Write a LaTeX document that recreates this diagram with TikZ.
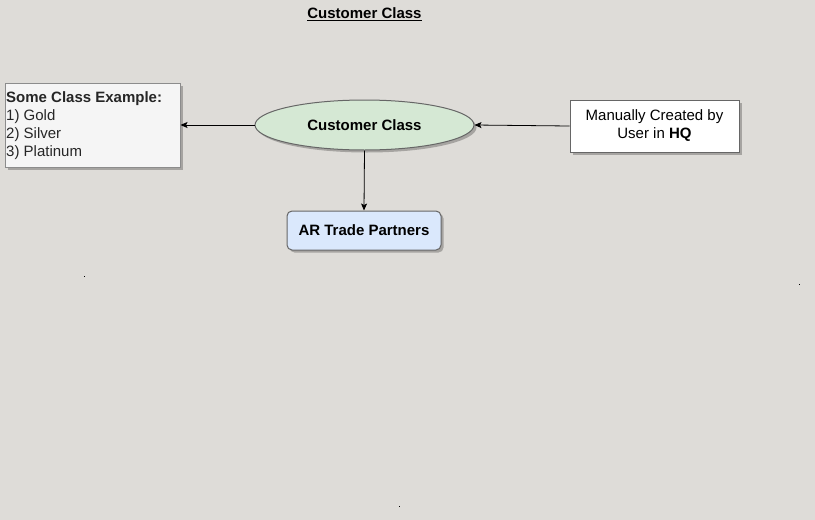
\documentclass[tikz,border=0pt]{standalone}
\usepackage{fontspec}
\setmainfont{Liberation Sans}
\usetikzlibrary{shapes.geometric,shadows,arrows.meta}
\definecolor{bg}{HTML}{DEDCD8}
\definecolor{strk}{HTML}{666666}
\definecolor{greenfill}{HTML}{D5E8D4}
\definecolor{bluefill}{HTML}{DAE8FC}
\definecolor{grayfill}{HTML}{F5F5F5}
\begin{document}
\begin{tikzpicture}[x=1pt,y=-1pt,
  shd/.style={drop shadow={shadow xshift=2.5pt,shadow yshift=-2.5pt,fill=black,opacity=0.25}},
  txt/.style={font=\fontsize{15}{18}\selectfont},
  boxa/.style={draw=strk,line width=1pt,shd,txt,inner sep=0pt},
  conn/.style={draw=black,line width=0.8pt,-{Stealth[length=7pt,width=6pt,inset=1.5pt]}}]
\fill[bg] (0,0) rectangle (815,520);
\useasboundingbox (0,0) rectangle (815,520);
% title
\node[txt,font=\fontsize{15}{18}\selectfont\bfseries] (title) at (364.5,14) {\underline{Customer Class}};
% left box
\node[boxa,draw=black!45,fill=grayfill,minimum width=175pt,minimum height=84pt] (ex) at (92.5,125) {};
\node[txt,anchor=north west,align=left,inner sep=0pt,text=black!85] (extxt) at (6,91.5)
  {\textbf{Some Class Example:}\\1) Gold\\2) Silver\\3) Platinum};
% ellipse
\node[boxa,ellipse,fill=greenfill,minimum width=219pt,minimum height=50pt] (cc) at (364.5,125) {\textbf{Customer Class}};
% right box
\node[boxa,fill=white,minimum width=169pt,minimum height=52pt,align=center] (man) at (654.5,126) {Manually Created by\\User in \textbf{HQ}};
% AR box
\node[boxa,rounded corners=5pt,fill=bluefill,minimum width=154pt,minimum height=39pt] (ar) at (364,230.5) {\textbf{AR Trade Partners}};
% connectors
\draw[conn] (man.west) -- (cc.east);
\draw[conn] (cc.west) -- (ex.east);
\draw[conn] (cc.south) -- (ar.north);
% stray dots
\fill[black] (83.5,275.5) rectangle ++(1.5,1.5);
\fill[black] (798.5,283.5) rectangle ++(1.5,1.5);
\fill[black] (398.5,505.5) rectangle ++(1.5,1.5);
\end{tikzpicture}
\end{document}
